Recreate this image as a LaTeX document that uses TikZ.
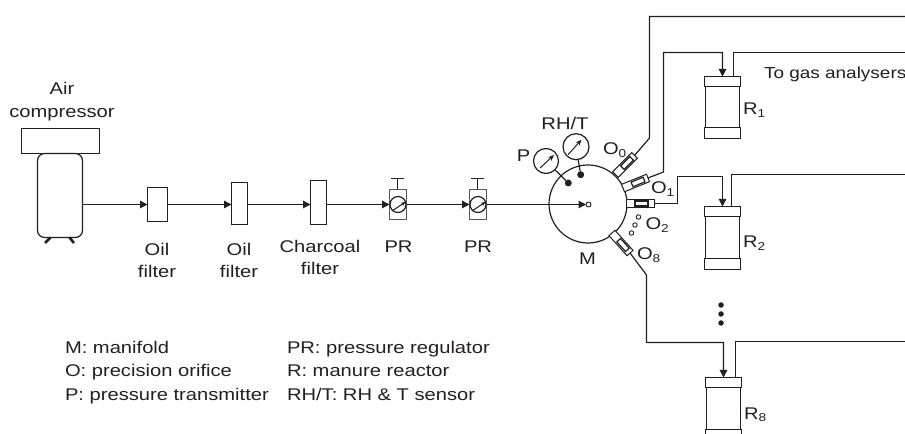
\documentclass[tikz,border=0pt]{standalone}
\usepackage{fontspec}
\setmainfont[FakeStretch=1.19]{Liberation Sans}
\usetikzlibrary{arrows.meta,calc}
\definecolor{ink}{HTML}{231F20}
\newcommand{\subt}[1]{\raisebox{-2.6pt}{\fontsize{11.5}{12}\selectfont #1}}
\newcommand{\reactor}[3]{%
  \node[boxn,minimum width=34bp,minimum height=#3 bp] (#1b) at (#2) {};
  \node[boxn,minimum width=36bp,minimum height=10bp,anchor=south] (#1t) at (#1b.north) {};
  \node[boxn,minimum width=36bp,minimum height=11bp,anchor=north] (#1u) at (#1b.south) {};
}
\tikzset{
  x=1bp,y=-1bp,
  pipe/.style={draw=ink,line width=1.2bp,line join=miter},
  arrowed/.style={pipe,-{Triangle[length=7.5bp,width=7.5bp]}},
  boxn/.style={draw=ink,fill=white,line width=1.2bp,inner sep=0pt,outer sep=0pt,rectangle},
  grey box/.style={boxn,draw=ink!75,line width=1.3bp},
  gauge/.style={circle,draw=ink,fill=white,line width=1.2bp,inner sep=0pt,outer sep=0pt},
  dotn/.style={circle,fill=ink,inner sep=0pt,outer sep=0pt},
  ring/.style={circle,draw=ink,fill=white,line width=.9bp,inner sep=0pt,outer sep=0pt},
  orif/.style={boxn,minimum width=27bp,minimum height=8bp,line width=1bp},
  orifin/.style={boxn,minimum width=13bp,minimum height=5bp,line width=1.2bp},
  lab/.style={text=ink,inner sep=0pt,outer sep=0pt,font=\fontsize{17}{21}\selectfont},
  leg/.style={lab,anchor=base west},
}
\begin{document}
\begin{tikzpicture}
\useasboundingbox (0,0) rectangle (905,434);
\clip (0,0) rectangle (905,434);
% compressor
\node[boxn,minimum width=78bp,minimum height=25bp] (head) at (60.5,141) {};
\node[boxn,rounded corners=7bp,minimum width=45bp,minimum height=84bp] (tank) at (60,195.5) {};
\coordinate (fa1) at (45,243); \coordinate (fa2) at (50.5,237.5);
\coordinate (fb1) at (74,243); \coordinate (fb2) at (69.5,237.5);
\draw[draw=ink,line width=2.6bp] (fa1) -- (fa2) (fb1) -- (fb2);
% filters
\node[boxn,minimum width=20bp,minimum height=34bp] (f1) at (157.5,204.5) {};
\node[boxn,minimum width=16bp,minimum height=42bp] (f2) at (239.5,203.5) {};
\node[boxn,minimum width=16bp,minimum height=44bp] (f3) at (318.5,202.5) {};
% regulators
\foreach \n/\xc in {pra/398,prb/478}{
  \node[grey box,minimum width=17bp,minimum height=30bp] (\n) at (\xc,204.5) {};
  \node[gauge,minimum size=16bp] (\n g) at (\xc,204.5) {};
  \coordinate (\n s) at (\xc-0.5,178.5);
  \draw[draw=ink,line width=1.2bp] (\n.north -| \n s) -- (\n s);
  \draw[draw=ink,line width=1.5bp] ($(\n s)+(-6.5,0)$) -- ($(\n s)+(6.5,0)$);
  \draw[draw=ink,line width=1bp,-{Stealth[length=4.5bp,width=4bp]}] ($(\n g)+(-6,6.5)$) -- ($(\n g)+(7.5,-2.5)$);
}
% manifold
\node[gauge,minimum size=78bp] (m) at (588,204) {};
\node[ring,minimum size=5bp] (c0) at (588.5,204.5) {};
% gauges
\node[dotn,minimum size=7bp] (dp) at (568.3,183) {};
\node[dotn,minimum size=7bp] (dr) at (580.7,174.7) {};
\node[gauge,minimum size=25bp] (gp) at (546,161) {};
\node[gauge,minimum size=26bp] (gr) at (576,146.7) {};
\draw[pipe] (gp) -- (dp);
\draw[pipe] (gr) -- (dr);
\draw[draw=ink,line width=1bp,-{Stealth[length=6bp,width=5bp]}] ($(gp)+(-6,7)$) -- ($(gp)+(8,-6)$);
\draw[draw=ink,line width=1bp,-{Stealth[length=6bp,width=5bp]}] ($(gr)+(-8,8)$) -- ($(gr)+(5.5,-7)$);
\foreach \xc/\yc in {638.5/217,635/225,631.5/233}{
  \node[ring,minimum size=4.5bp] at (\xc,\yc) {};
}
% orifices
\node[orif,rotate=45] (o0) at (625,165) {};
\node[orifin,rotate=45] (o0i) at (627,163) {};
\node[orif,rotate=22] (o1) at (635.5,183) {};
\node[orifin,rotate=22] (o1i) at (638,182) {};
\node[orif,minimum width=28bp] (o2) at (640,203.5) {};
\node[orifin] (o2i) at (641.5,203.5) {};
\node[orif,rotate=-48] (o8) at (621,243) {};
\node[orifin,rotate=-48] (o8i) at (623,245) {};
% reactors
\reactor{ra}{722.5,107}{41}
\reactor{rb}{722.5,237.5}{42}
\reactor{rc}{723.5,408.5}{42}
% main line
\draw[arrowed] (tank.east |- f1.west) -- (f1.west);
\draw[arrowed] (f1.east) -- (f1.east -| f2.west);
\draw[arrowed] (f2.east |- f1.east) -- (f3.west |- f1.east);
\draw[arrowed] (f3.east |- f1.east) -- (pra.west);
\draw[arrowed] (pra.east) -- (prb.west);
\draw[arrowed] (prb.east) -- (c0.west);
% pipes from orifices
\coordinate (k0) at (649.5,138); \coordinate (e0) at (905,16.5);
\draw[pipe] (o0.east) -- (k0) -- (k0 |- e0) -- (e0);
\coordinate (k1) at (663.5,172); \coordinate (t1) at (663.5,52.5);
\draw[arrowed] (o1.east) -- (k1) -- (t1) -- (t1 -| rat) -- (rat.north);
\coordinate (k2) at (677.5,203.5); \coordinate (t2) at (677.5,176.5);
\draw[arrowed] (o2.east) -- (k2) -- (t2) -- (t2 -| rbt) -- (rbt.north);
\coordinate (k8) at (646.5,275); \coordinate (t8) at (646.5,342.5);
\draw[arrowed] (o8.east) -- (k8) -- (t8) -- (t8 -| rct) -- (rct.north);
% outlets
\coordinate (x1) at (733.5,52.5); \coordinate (e1) at (905,52.5);
\draw[pipe] (rat.north -| x1) -- (x1) -- (e1);
\coordinate (x2) at (731.5,174.5); \coordinate (e2) at (905,174.5);
\draw[pipe] (rbt.north -| x2) -- (x2) -- (e2);
\coordinate (x8) at (735.5,341.5); \coordinate (e8) at (905,341.5);
\draw[pipe] (rct.north -| x8) -- (x8) -- (e8);
% ellipsis dots
\foreach \yc in {305,314,323}{ \node[dotn,minimum size=5.5bp] at (721,\yc) {}; }
% labels
\node[lab,align=center,anchor=base] (l1) at (62,118) {Air\\[2.5pt]compressor};
\node[lab,align=center,anchor=base] (l2) at (157,278) {Oil\\[1.5pt]filter};
\node[lab,align=center,anchor=base] (l3) at (239,278) {Oil\\[1.5pt]filter};
\node[lab,align=center,anchor=base] (l4) at (320,275) {Charcoal\\[1.5pt]filter};
\node[lab,anchor=base] (l5) at (398.5,253) {PR};
\node[lab,anchor=base] (l6) at (478,253) {PR};
\node[lab,anchor=base] (l7) at (565,130) {RH/T};
\node[lab,anchor=base] (l8) at (523.5,162) {P};
\node[lab,anchor=base] (l9) at (587.5,265) {M};
\node[lab,anchor=base west] (o0l) at (603,155) {O\subt{0}};
\node[lab,anchor=base west] (o1l) at (651,194) {O\subt{1}};
\node[lab,anchor=base west] (o2l) at (645.5,230) {O\subt{2}};
\node[lab,anchor=base west] (o8l) at (637,260) {O\subt{8}};
\node[lab,anchor=base west] (r1l) at (743,115) {R\subt{1}};
\node[lab,anchor=base west] (r2l) at (743,248) {R\subt{2}};
\node[lab,anchor=base west] (r8l) at (744,419) {R\subt{8}};
\node[lab,anchor=base west,font=\fontsize{16}{21}\selectfont] (gas) at (764,79) {To gas analysers};
\node[leg] (a1) at (65,354) {M: manifold};
\node[leg] (a2) at (65,377) {O: precision orifice};
\node[leg] (a3) at (65,400) {P: pressure transmitter};
\node[leg] (b1) at (287,354) {PR: pressure regulator};
\node[leg] (b2) at (287,377) {R: manure reactor};
\node[leg] (b3) at (287,400) {RH/T: RH \& T sensor};
\end{tikzpicture}
\end{document}
